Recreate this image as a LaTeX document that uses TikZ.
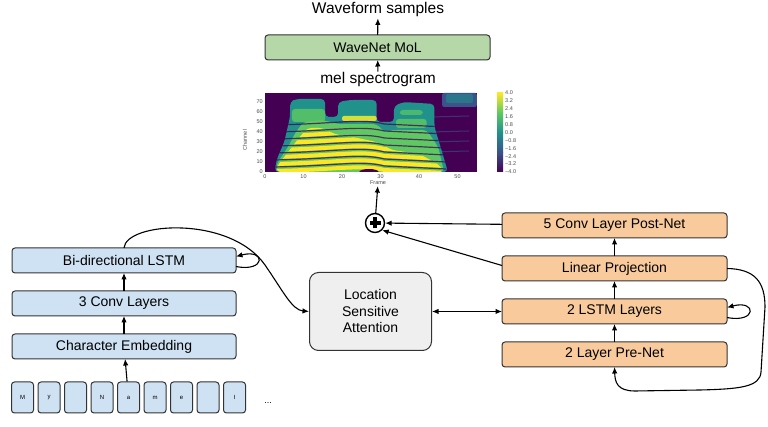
\documentclass[tikz,border=0pt]{standalone}
\usepackage{fontspec}
\setmainfont{Liberation Sans}
\usepackage{xcolor}
\usepackage{tikz}
\usetikzlibrary{positioning, arrows.meta}
\definecolor{c_enc}{HTML}{CFE2F3}
\definecolor{c_dec}{HTML}{F9CB9C}
\definecolor{c_voc}{HTML}{B6D7A8}
\definecolor{c_att}{HTML}{EFEFEF}
\definecolor{c_vir0}{HTML}{440154}
\definecolor{c_vir1}{HTML}{3B528B}
\definecolor{c_vir2}{HTML}{21918C}
\definecolor{c_vir3}{HTML}{5EC962}
\definecolor{c_vir4}{HTML}{FDE725}
\tikzset{c-box/.style={rectangle, rounded corners=3pt, minimum width=224pt, minimum height=25pt, text centered, draw=black!80, line width=1pt, outer sep=0pt, font=\fontsize{14}{16}\selectfont},
c-enc/.style={c-box, fill=c_enc},
c-dec/.style={c-box, fill=c_dec},
c-tile/.style={rectangle, rounded corners=3pt, minimum width=22pt, minimum height=31pt, draw=black!80, line width=1pt, fill=c_enc, font=\fontsize{6}{7}\selectfont},
c-tick/.style={font=\fontsize{5.5}{6}\selectfont, text=black!70, inner sep=1pt},
arrow/.style={line width=1.1pt,->,>={Latex[length=6.5pt,width=5.5pt]}}}

\begin{document}
\begin{tikzpicture}[x=1pt, y=1pt, node distance = 18pt]
\useasboundingbox (0,0) rectangle (768,427);
% vocoder
\node (wavenet) [c-box, fill=c_voc, minimum width=225pt] at (377.5,379.5) {WaveNet MoL};
\node (wave) [font=\fontsize{15.5}{17}\selectfont, inner sep=1pt] at (378,417) {Waveform samples};
\node (mel) [font=\fontsize{15.5}{17}\selectfont, inner sep=1pt] at (378,347) {mel spectrogram};
\draw [arrow] (wavenet) -- (wave);
\draw [arrow] (mel) -- (wavenet);
% spectrogram
\begin{scope}[shift={(265,255)}, x=3.85pt, y=1pt]
\clip (0,0) rectangle (55,79);
\fill [c_vir0] (0,0) rectangle (55,79);
\fill [c_vir1, rounded corners=2pt] (46,65) rectangle (55,79);
\fill [c_vir2!55!c_vir1, rounded corners=2pt] (47,69) rectangle (54,78);
\foreach \c in {20,30,40,55} \draw [c_vir1, opacity=0.6, line width=1pt] (43,\c) -- (53,{\c+1});
\begin{scope}
\clip [rounded corners=4pt] (2.5,0) -- (3,12) -- (5,30) -- (6.5,55) -- (6.5,70) -- (8,73) -- (15.6,73) -- (15.6,55) -- (19,55) -- (19,70) -- (22,72) -- (29,72) -- (29,50) -- (33.5,50) -- (33.5,66) -- (36,70) -- (44,68) -- (44,45) -- (46,20) -- (47.5,0) -- cycle;
\fill [c_vir2] (0,0) rectangle (55,79);
\fill [c_vir3!80!c_vir2, rounded corners=3pt] (7,50) rectangle (15.6,63);
\fill [c_vir3!80!c_vir2, rounded corners=3pt] (34,44) rectangle (42,53);
\fill [c_vir3!70!c_vir2, rounded corners=3pt] (35,57) rectangle (41,62);
\fill [c_vir3, rounded corners=4pt] (3,0) -- (3,8) -- (6,25) -- (8,40) -- (10,50) -- (15,52) -- (19,48) -- (29,48) -- (31,40) -- (33,42) -- (42,42) -- (45,25) -- (46.5,0) -- cycle;
\fill [c_vir4!75!c_vir3, rounded corners=2pt] (20,51) rectangle (29,56);
\begin{scope}
\clip [rounded corners=4pt] (3,0) -- (3,5) -- (6,20) -- (9,35) -- (11,44) -- (15,44) -- (18,38) -- (24,34) -- (29,30) -- (33,22) -- (40,18) -- (45,8) -- (46.5,0) -- cycle;
\foreach \c in {1,8,...,50} \draw [c_vir4, line width=4pt] (2,\c) .. controls (18,{\c+1}) and (25,{\c+7}) .. (31,{\c+1}) -- (47,{\c-2});
\end{scope}
\foreach \c in {5,12,...,50} \draw [c_vir0, opacity=0.75, line width=1.2pt] (2,\c) .. controls (18,{\c+1}) and (25,{\c+7}) .. (31,{\c+1}) -- (47,{\c-2});
\fill [c_vir0] (27,0) ellipse (2.5 and 3);
\end{scope}
\end{scope}
\foreach \c in {0,10,...,70} \node [c-tick, anchor=east] at (264,255+\c) {\c};
\foreach \f in {0,10,...,50} \node [c-tick, anchor=north] at (265+3.85*\f,254) {\f};
\node [c-tick, rotate=90] at (245,287) {Channel};
\node (frame) [c-tick] at (378,244) {Frame};
% colour bar
\shade [bottom color=c_vir0, top color=c_vir1] (497,255) rectangle (503,274.75);
\shade [bottom color=c_vir1, top color=c_vir2] (497,274.75) rectangle (503,294.5);
\shade [bottom color=c_vir2, top color=c_vir3] (497,294.5) rectangle (503,314.25);
\shade [bottom color=c_vir3, top color=c_vir4] (497,314.25) rectangle (503,334);
\foreach \v [count=\k from 0] in {4.0,3.2,2.4,1.6,0.8,0.0,−0.8,−1.6,−2.4,−3.2,−4.0}
  \node [c-tick, anchor=west] at (504,334-7.9*\k) {\v};
% decoder
\node (postnet) [c-dec, minimum width=225pt] at (614.5,201.5) {5 Conv Layer Post-Net};
\node (linproj) [c-dec, minimum width=225pt, below=of postnet] {Linear Projection};
\node (lstm) [c-dec, minimum width=225pt, below=of linproj] {2 LSTM Layers};
\node (prenet) [c-dec, minimum width=225pt, below=of lstm] {2 Layer Pre-Net};
\node (att) [rectangle, rounded corners=9pt, minimum width=122pt, minimum height=78pt, text width=110pt, text centered, draw=black!80, line width=1pt, fill=c_att, font=\fontsize{14}{16.5}\selectfont, left=70pt of lstm] {Location\\Sensitive\\Attention};
\node (sum) [circle, draw, line width=1.4pt, minimum size=19pt, inner sep=0pt] at (375,204) {};
\draw [line width=3.2pt] (sum.center) +(-5.5,0) -- +(5.5,0);
\draw [line width=3.2pt] (sum.center) +(0,-5.5) -- +(0,5.5);
\draw [arrow] (prenet) -- (lstm);
\draw [arrow] (lstm) -- (linproj);
\draw [arrow] (linproj) -- (postnet);
\draw [arrow] (postnet) -- (sum);
\draw [arrow] ([yshift=3pt]linproj.west) -- (sum.south east);
\draw [arrow] (sum) -- (frame);
\draw [arrow, <->] (att) -- (lstm);
\draw [arrow] ([yshift=-6pt]lstm.east) .. controls +(30,-6) and +(30,8) .. ([yshift=4pt]lstm.east);
\draw [arrow] (linproj.east) .. controls (755,158) and (765,145) .. (765,120) -- (761,55) .. controls (760,40) and (740,38) .. (700,37) -- (635,36) .. controls (617,36) and (615,45) .. (prenet.south);
% encoder
\node (bilstm) [c-enc] at (124,166.5) {Bi-directional LSTM};
\node (conv) [c-enc, below=of bilstm] {3 Conv Layers};
\node (charemb) [c-enc, below=of conv] {Character Embedding};
\foreach \l [count=\i] in {M,y,{},N,a,m,e,{},I}
  \node (t\i) [c-tile] at (22.5+26.5*\i-26.5,29.5) {\l};
\node (dots) [font=\fontsize{9}{10}\selectfont] at (268,24) {...};
\draw [arrow] (t5) -- (charemb);
\draw [arrow] (charemb) -- (conv);
\draw [arrow] (conv) -- (bilstm);
\draw [arrow] ([yshift=-6pt]bilstm.east) .. controls +(30,-6) and +(30,8) .. ([yshift=4pt]bilstm.east);
\draw [arrow] (bilstm.north) .. controls (126,205) and (230,212) .. (265,162) .. controls (283,136) and (292,117) .. (att.west);
\end{tikzpicture}
\end{document}
